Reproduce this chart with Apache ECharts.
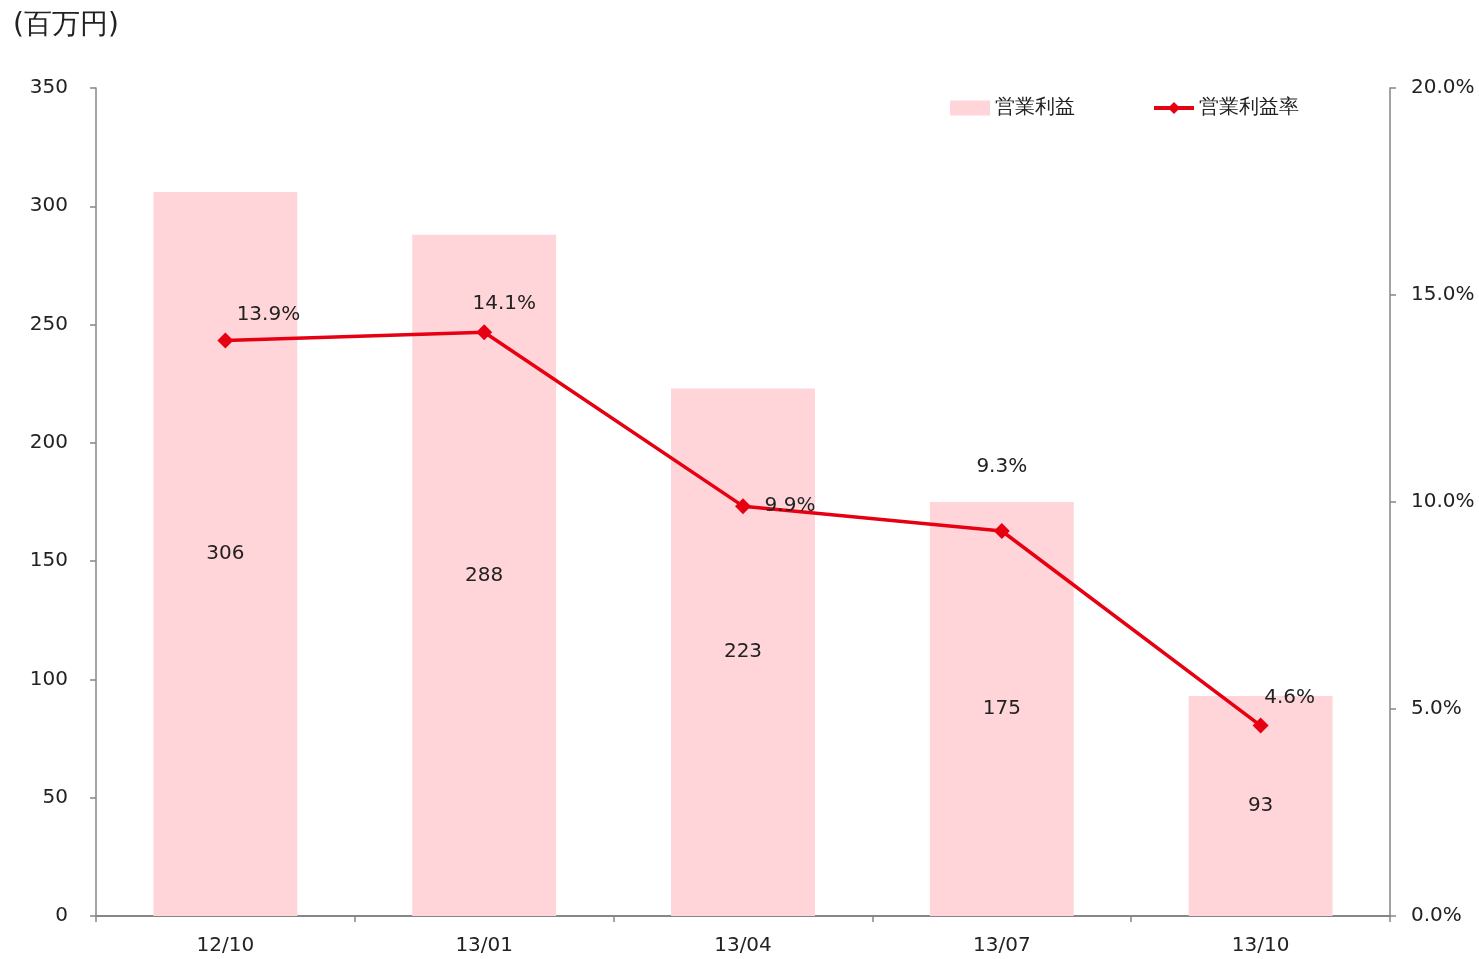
<!DOCTYPE html>
<html>
<head>
<meta charset="utf-8">
<script src="https://cdn.jsdelivr.net/npm/echarts@6/dist/echarts.min.js"></script>
<style>
  html, body { margin: 0; padding: 0; background: #fff; }
  #chart { width: 1479px; height: 959px; }
</style>
</head>
<body>
<div id="chart"></div>
<script>
// data
var categories = ['12/10', '13/01', '13/04', '13/07', '13/10'];
var profit = [306, 288, 223, 175, 93];
var margin = [13.9, 14.1, 9.9, 9.3, 4.6];

// label offsets for the rate labels (as in the original layout)
var rateLabelOffsets = [[43, -26], [20, -28], [47, 0], [0, -64], [29, -28]];

var FONT = '"DejaVu Sans", Verdana, sans-serif';
var axisColor = '#868686';
var textColor = '#222';

var marginData = margin.map(function (v, i) {
  return {
    value: v,
    label: { offset: rateLabelOffsets[i] }
  };
});

var chart = echarts.init(document.getElementById('chart'));
chart.setOption({
  animation: false,
  textStyle: { fontFamily: FONT },
  title: {
    text: '(百万円)',
    left: 13,
    top: 12,
    padding: 0,
    textStyle: { fontFamily: FONT, fontSize: 28, fontWeight: 'normal', color: textColor }
  },
  legend: {
    top: 98,
    left: 950,
    padding: 0,
    itemGap: 77,
    itemWidth: 40,
    itemHeight: 15,
    textStyle: { fontFamily: FONT, fontSize: 20, color: textColor },
    data: [
      { name: '営業利益', icon: 'rect' },
      { name: '営業利益率', lineStyle: { width: 4 } }
    ]
  },
  grid: { left: 96, right: 89, top: 88, bottom: 43 },
  xAxis: {
    type: 'category',
    data: categories,
    axisLine: { lineStyle: { color: axisColor, width: 2 } },
    axisTick: { show: true, length: 6, lineStyle: { color: axisColor, width: 1.5 } },
    axisLabel: { color: textColor, fontSize: 20, margin: 20, fontFamily: FONT }
  },
  yAxis: [
    {
      type: 'value',
      min: 0, max: 350, interval: 50,
      axisLine: { show: true, lineStyle: { color: axisColor, width: 1.5 } },
      axisTick: { show: true, length: 6, lineStyle: { color: axisColor, width: 1.5 } },
      splitLine: { show: false },
      axisLabel: { color: textColor, fontSize: 20, margin: 28, fontFamily: FONT }
    },
    {
      type: 'value',
      min: 0, max: 20, interval: 5,
      position: 'right',
      axisLine: { show: true, lineStyle: { color: axisColor, width: 1.5 } },
      axisTick: { show: true, length: 6, lineStyle: { color: axisColor, width: 1.5 } },
      splitLine: { show: false },
      axisLabel: {
        color: textColor, fontSize: 20, margin: 21, fontFamily: FONT,
        formatter: function (v) { return v.toFixed(1) + '%'; }
      }
    }
  ],
  series: [
    {
      name: '営業利益',
      type: 'bar',
      data: profit,
      barWidth: '55.6%',
      itemStyle: { color: '#ffd5d9' },
      label: {
        show: true,
        position: 'inside',
        color: textColor,
        fontSize: 20,
        fontFamily: FONT
      }
    },
    {
      name: '営業利益率',
      type: 'line',
      yAxisIndex: 1,
      data: marginData,
      symbol: 'diamond',
      symbolSize: 16,
      lineStyle: { color: '#e60012', width: 3.5 },
      itemStyle: { color: '#e60012' },
      label: {
        show: true,
        position: 'inside',
        color: textColor,
        fontSize: 20,
        fontFamily: FONT,
        formatter: function (p) { return p.value.toFixed(1) + '%'; }
      },
      z: 5
    }
  ]
});
</script>
</body>
</html>
